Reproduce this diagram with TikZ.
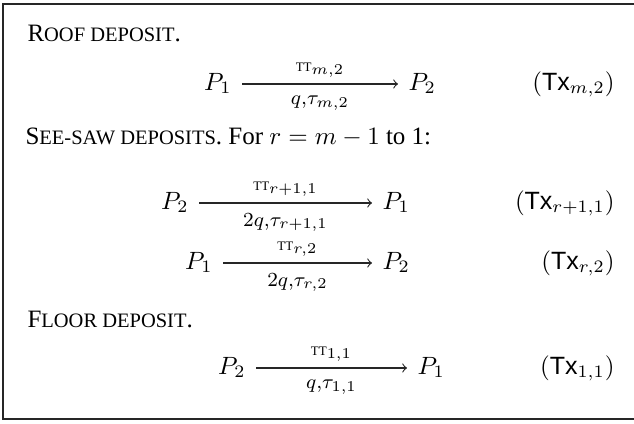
\documentclass[tikz,border=0pt]{standalone}
\usepackage{amsmath}
\usepackage{fontspec}
\setmainfont{Liberation Serif}
\setsansfont{Liberation Sans}

\newcommand{\fakesc}[2]{#1{\fontsize{8.2}{9}\selectfont #2}}
\newcommand{\ttlab}[1]{\scriptstyle\mbox{\fontsize{5.2}{6}\selectfont TT}_{#1}}
\newcommand{\txtag}[1]{$(\mbox{\sffamily Tx}_{#1})$}

\begin{document}
\begin{tikzpicture}[x=0.4pt, y=-0.4pt, >=to]
                \tikzset{
                  pnode/.style={inner xsep=4pt, inner ysep=0pt, text height=7pt, text depth=2pt},
                  arr/.style={->, line width=0.45pt, draw=black!85},
                  uplab/.style={font=\large, inner sep=0pt, midway, yshift=5.6pt},
                  lowlab/.style={font=\large, inner sep=0pt, midway, yshift=-7.8pt},
                  head/.style={anchor=base west, inner sep=0pt},
                  tagnode/.style={anchor=east, inner sep=0pt, text height=7pt, text depth=2pt}
                }
                \useasboundingbox (0,0) rectangle (634,424);
                \draw[line width=0.6pt, black!85] (640,4) -- (3,4) -- (3,419) -- (640,419);
                
                % Roof
                \node[head] (roof) at (27,42) {\fakesc{R}{OOF DEPOSIT}.};
                \node[pnode, anchor=east] (a1) at (242,84) {$P_1$};
                \node[pnode, anchor=west] (b1) at (398,84) {$P_2$};
                \draw[arr] (a1) -- node[uplab] {$\ttlab{m,2}$} node[lowlab] {$\scriptstyle q,\tau_{m,2}$} (b1);
                \node[tagnode] (t1) at (615,84) {\txtag{m,2}};
                
                % See-saw
                \node[head] (seesaw) at (25,145) {\fakesc{S}{EE-SAW DEPOSITS}. For $r=m-1$ to 1:};
                \node[pnode, anchor=east] (a2) at (199,203) {$P_2$};
                \node[pnode, anchor=west] (b2) at (372,203) {$P_1$};
                \draw[arr] (a2) -- node[uplab] {$\ttlab{r+1,1}$} node[lowlab] {$\scriptstyle 2q,\tau_{r+1,1}$} (b2);
                \node[tagnode] (t2) at (615,203) {\txtag{r+1,1}};
                \node[pnode, anchor=east] (a3) at (223,263) {$P_1$};
                \node[pnode, anchor=west] (b3) at (372,263) {$P_2$};
                \draw[arr] (a3) -- node[uplab] {$\ttlab{r,2}$} node[lowlab] {$\scriptstyle 2q,\tau_{r,2}$} (b3);
                \node[tagnode] (t3) at (615,263) {\txtag{r,2}};
                
                % Floor
                \node[head] (floor) at (27,328) {\fakesc{F}{LOOR DEPOSIT}.};
                \node[pnode, anchor=east] (a4) at (256,368) {$P_2$};
                \node[pnode, anchor=west] (b4) at (407,368) {$P_1$};
                \draw[arr] (a4) -- node[uplab] {$\ttlab{1,1}$} node[lowlab] {$\scriptstyle q,\tau_{1,1}$} (b4);
                \node[tagnode] (t4) at (615,368) {\txtag{1,1}};
\end{tikzpicture}
\end{document}
